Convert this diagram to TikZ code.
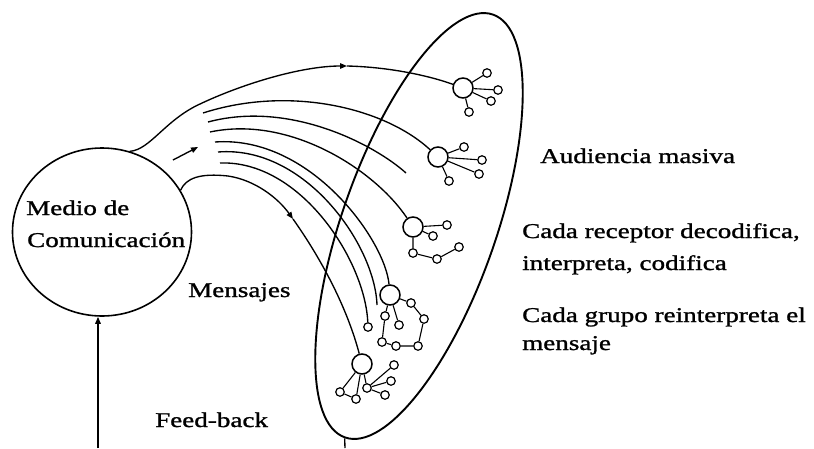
\documentclass[tikz,border=0pt]{standalone}
\usepackage{fontspec}
\setmainfont[FakeStretch=1.29,FakeBold=1.2]{Liberation Serif}
\usetikzlibrary{shapes.geometric,arrows.meta}
\begin{document}
\begin{tikzpicture}[x=1pt,y=-1pt,
  curve/.style={line width=1.35},
  tipd/.style={-{Triangle[length=7,width=5.5]}},
  hub/.style={circle,draw,minimum size=20,inner sep=0,line width=1.5},
  sat/.style={circle,draw,minimum size=8.5,inner sep=0,line width=1.2},
  lnk/.style={line width=1.1},
  lbl/.style={anchor=base west,inner sep=0,font=\fontsize{21}{25}\selectfont}]
\useasboundingbox (0,0) rectangle (814,448);
\fill[white] (0,0) rectangle (814,448);

% main shapes
\node[draw,ellipse,minimum width=179,minimum height=168,inner sep=0,line width=1.6] (medio) at (102,232) {};
\node[draw,ellipse,minimum width=448,minimum height=154,inner sep=0,line width=1.9,rotate=70.7] (aud) at (419,226) {};

% texts
\node[lbl] (t1) at (26,215) {Medio de};
\node[lbl] (t2) at (27,247) {Comunicación};
\node[lbl] (t3) at (188,297) {Mensajes};
\node[lbl] (t4) at (155,427) {Feed-back};
\node[lbl] (t5) at (540,163) {Audiencia masiva};
\node[lbl] (t6) at (522,238) {Cada receptor decodifica,};
\node[lbl] (t7) at (522,270) {interpreta, codifica};
\node[lbl] (t8) at (522,322) {Cada grupo reinterpreta el};
\node[lbl] (t9) at (522,350) {mensaje};

% receivers
\node[hub] (h1) at (463,88) {};
\node[sat] (s1a) at (487,73) {};
\node[sat] (s1b) at (498,90) {};
\node[sat] (s1c) at (491,101) {};
\node[sat] (s1d) at (469,112) {};
\node[hub] (h2) at (438,157) {};
\node[sat] (s2a) at (464,147) {};
\node[sat] (s2b) at (482,160) {};
\node[sat] (s2c) at (479,174) {};
\node[sat] (s2d) at (449,181) {};
\node[hub] (h3) at (413,227) {};
\node[sat] (s3a) at (447,225) {};
\node[sat] (s3b) at (433,236) {};
\node[sat] (s3c) at (413,253) {};
\node[sat] (s3d) at (437,259) {};
\node[sat] (s3e) at (459,247) {};
\node[hub] (h4) at (390,295) {};
\node[sat] (s4a) at (411,303) {};
\node[sat] (s4b) at (385,316) {};
\node[sat] (s4c) at (399,325) {};
\node[sat] (s4d) at (424,319) {};
\node[sat] (s4e) at (382,342) {};
\node[sat] (s4f) at (396,346) {};
\node[sat] (s4g) at (418,346) {};
\node[sat] (sf) at (368,327) {};
\node[hub] (h5) at (362,364) {};
\node[sat] (s5a) at (394,365) {};
\node[sat] (s5b) at (391,381) {};
\node[sat] (s5c) at (385,395) {};
\node[sat] (s5d) at (367,388) {};
\node[sat] (s5e) at (356,399) {};
\node[sat] (s5f) at (340,392) {};

\draw[lnk] (h1)--(s1a) (h1)--(s1b) (h1)--(s1c) (h1)--(s1d);
\draw[lnk] (h2)--(s2a) (h2)--(s2b) (h2)--(s2c) (h2)--(s2d);
\draw[lnk] (h3)--(s3a) (h3)--(s3b) (h3)--(s3c) (s3c)--(s3d) (s3d)--(s3e);
\draw[lnk] (h4)--(s4a) (s4a)--(s4d) (s4d)--(s4g) (s4g)--(s4f) (s4f)--(s4e) (s4e)--(s4b) (s4b)--(h4) (h4)--(s4c);
\draw[lnk] (h5)--(s5f) (h5)--(s5e) (s5f)--(s5e) (h5)--(s5d) (s5d)--(s5a) (s5d)--(s5b) (s5d)--(s5c);

% coordinates
\coordinate (a1) at (347,66);
\coordinate (a2) at (293,219);
\coordinate (sa0) at (173,160);
\coordinate (sa1) at (198,147);
\coordinate (m1) at (203,113);
\coordinate (m2) at (208,122);
\coordinate (m3) at (210,132);
\coordinate (m4) at (215,142);
\coordinate (m5) at (218,152);
\coordinate (m6) at (220,163);
\coordinate (e2) at (406,173);
\coordinate (e5) at (377,305);
\coordinate (fb0) at (98,448);
\coordinate (fb1) at (345,448);

% envelope curves
\draw[curve,tipd] (medio.71) .. controls (150,150) and (165,120) .. (200,104) .. controls (240,85) and (300,66) .. (a1);
\draw[curve] (a1) .. controls (390,67) and (430,76) .. (h1);
\draw[curve,tipd] (medio.28) .. controls (186,178) and (200,173) .. (228,176) .. controls (255,180) and (278,198) .. (a2);
\draw[curve] (a2) .. controls (315,250) and (345,300) .. (h5);
\draw[curve,tipd] (sa0) -- (sa1);

% message lines
\draw[curve] (m1) .. controls (290,85) and (385,108) .. (h2);
\draw[curve] (m2) .. controls (290,100) and (375,145) .. (e2);
\draw[curve] (m3) .. controls (290,115) and (375,170) .. (h3);
\draw[curve] (m4) .. controls (310,135) and (385,240) .. (h4);
\draw[curve] (m5) .. controls (305,145) and (375,245) .. (e5);
\draw[curve] (m6) .. controls (300,160) and (365,260) .. (sf);

% feedback
\draw[curve,tipd] (fb0) -- (fb0 |- medio.south);
\draw[curve] (fb1) -- (aud.west);
\end{tikzpicture}
\end{document}
